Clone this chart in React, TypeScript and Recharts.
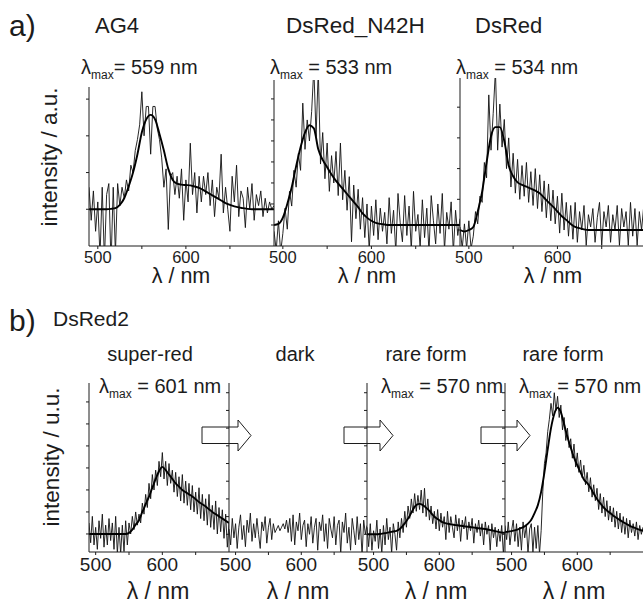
import React from "react";
import { LineChart, Line, XAxis, YAxis } from "recharts";

// wavelength grid of the measured traces (nm)
const wl = [
  490, 492.5, 495, 497.5, 500, 502.5, 505, 507.5, 510, 512.5,
  515, 517.5, 520, 522.5, 525, 527.5, 530, 532.5, 535, 537.5,
  540, 542.5, 545, 547.5, 550, 552.5, 555, 557.5, 560, 562.5,
  565, 567.5, 570, 572.5, 575, 577.5, 580, 582.5, 585, 587.5,
  590, 592.5, 595, 597.5, 600, 602.5, 605, 607.5, 610, 612.5,
  615, 617.5, 620, 622.5, 625, 627.5, 630, 632.5, 635, 637.5,
  640, 642.5, 645, 647.5, 650, 652.5, 655, 657.5, 660, 662.5,
  665, 667.5, 670, 672.5, 675, 677.5, 680, 682.5, 685, 687.5,
  690, 692.5, 695, 697.5, 700,
];

// wavelength grid of the fitted curves (nm)
const fitWl = [
  490, 495, 500, 505, 510, 515, 520, 525, 530, 535,
  540, 545, 550, 555, 560, 565, 570, 575, 580, 585,
  590, 595, 600, 605, 610, 615, 620, 625, 630, 635,
  640, 645, 650, 655, 660, 665, 670, 675, 680, 685,
  690, 695, 700,
];

// a) AG4
const ag4Raw = [
  0.6, -0.3, 0.5, -0.6, 0.2, -1.3, 0.6, -1.4, 0.4, 0.7,
  -1.5, 0.6, -1.2, 0.7, 0.1, 0.6, 0.3, 0.8, 0.5, 1.2,
  1.0, 1.6, 1.9, 2.3, 3.2, 2.0, 2.8, 2.8, 1.5, 2.8,
  2.8, 2.2, 1.9, 1.4, 0.6, 1.1, -0.55, 0.9, 1.0, 0.4,
  0.9, 0.3, 1.1, -0.3, 0.8, 0.2, 1.8, 0.4, 1.0, -0.1,
  0.9, 0.2, 0.9, 0.4, 1.0, 0.1, 0.8, -0.2, 0.6, 0.3,
  1.5, -0.1, 0.6, 0.0, -0.6, 0.9, 0.2, 1.2, -0.2, 0.5,
  0.3, -0.5, 0.6, 0.0, 0.7, -0.3, 0.4, 0.1, 0.5, -0.2,
  0.3, -0.1, 0.2, 0.0, 0.1,
];
const ag4Fit = [
  0, 0, 0, 0, 0, 0.01, 0.03, 0.12, 0.3, 0.62,
  1.0, 1.5, 2.1, 2.45, 2.57, 2.45, 2.05, 1.6, 1.1, 0.8,
  0.7, 0.67, 0.66, 0.65, 0.62, 0.58, 0.52, 0.45, 0.38, 0.31,
  0.24, 0.17, 0.12, 0.08, 0.05, 0.03, 0.01, 0, 0, 0,
  0, 0, 0,
];

// a) DsRed_N42H
const n42hRaw = [
  -0.3, -1.2, 0.2, -1.3, -0.4, 0.8, -0.2, 1.6, 0.9, 2.6,
  1.8, 3.4, 2.6, 5.8, 3.6, 5.0, 4.0, 5.4, 7.5, 4.2,
  7.4, 2.9, 4.4, 2.2, 3.9, 1.6, 3.3, 2.0, 3.5, 1.4,
  3.9, 1.2, 2.6, 0.7, 2.3, -0.8, 1.9, 0.3, 1.7, -0.2,
  1.3, -0.6, 1.0, -1.2, 0.9, -0.5, 1.2, -0.7, 0.8, -0.3,
  0.6, -0.9, 1.3, -0.4, 0.7, -1.3, 1.5, 0.1, -0.8, 1.4,
  -0.5, 0.9, -1.2, 1.6, -0.3, 0.5, -1.1, 1.2, -0.6, 0.8,
  -1.3, 1.4, 0.2, -0.9, 1.0, -0.4, 1.5, -1.2, 0.6, -0.2,
  1.1, -1.3, 0.7, -0.5, 0.3,
];
const n42hFit = [
  0, 0.05, 0.35, 1.0, 1.8, 2.8, 3.7, 4.4, 4.75, 4.6,
  3.6, 3.1, 2.75, 2.4, 2.1, 1.85, 1.6, 1.35, 1.1, 0.85,
  0.55, 0.35, 0.2, 0.1, 0.05, 0.02, 0, 0, 0, 0,
  0, 0, 0, 0, 0, 0, 0, 0, 0, 0,
  0, 0, 0,
];

// a) DsRed
const dsRedRaw = [
  0.1, -0.6, 0.2, -0.6, 0.3, -0.6, -0.2, 0.6, 0.2, 1.1,
  0.9, 2.2, 1.7, 4.4, 2.6, 3.8, 5.2, 2.6, 4.1, 2.7,
  3.6, 2.0, 3.0, 1.4, 2.5, 1.2, 2.3, 1.0, 2.1, 1.1,
  2.2, 0.9, 1.9, 0.8, 2.0, 0.7, 1.8, 0.6, 1.6, 0.4,
  1.5, 0.3, 1.3, 0.2, 1.1, -0.1, 1.2, 0.0, 0.9, -0.2,
  0.8, -0.3, 0.9, -0.4, 0.6, 0.0, 0.8, -0.5, 0.5, 0.1,
  0.7, -0.4, 0.4, 0.9, -0.5, 0.6, 0.1, 0.8, -0.4, 0.5,
  0.0, 0.8, -0.5, 0.7, 0.1, 0.6, -0.5, 0.9, -0.2, 0.7,
  -0.5, 0.6, 0.0, 0.8, -0.3,
];
const dsRedFit = [
  0, -0.05, 0, 0.1, 0.6, 1.25, 2.2, 3.05, 3.35, 3.35,
  2.9, 2.1, 1.75, 1.55, 1.47, 1.41, 1.35, 1.28, 1.2, 1.05,
  0.9, 0.76, 0.6, 0.45, 0.33, 0.2, 0.1, 0.06, 0.02, 0,
  0, 0, 0, 0, 0, 0, 0, 0, 0, 0,
  0, 0, 0,
];

// b) DsRed2 super-red
const superRedRaw = [
  0.5, -0.4, 0.8, -0.5, 0.3, -0.7, 0.6, -0.2, 0.9, -0.6,
  0.4, -0.5, 0.7, -0.3, 0.5, -0.7, 0.8, -0.9, 0.3, -0.9,
  0.4, -0.8, 0.6, -0.5, 0.5, 0.0, 0.8, 0.2, 1.0, 0.4,
  0.9, 0.5, 1.4, 0.9, 1.8, 1.2, 2.3, 1.6, 2.7, 2.0,
  2.9, 2.2, 3.3, 2.6, 3.7, 2.5, 3.3, 2.2, 3.2, 2.3,
  2.9, 1.9, 2.8, 1.7, 2.6, 1.5, 2.7, 1.4, 2.4, 1.3,
  2.3, 1.1, 2.2, 1.0, 1.9, 0.9, 2.1, 0.7, 1.8, 0.6,
  1.6, 0.4, 1.8, 0.3, 1.3, 0.2, 1.5, 0.0, 1.2, 0.1,
  1.1, -0.2, 0.9, -0.6, 0.5,
];
const superRedFit = [
  0, 0, 0, 0, 0, 0, 0, 0, 0, 0,
  0, 0, 0.05, 0.2, 0.42, 0.62, 1.0, 1.35, 1.7, 2.1,
  2.5, 2.85, 3.05, 2.9, 2.7, 2.5, 2.3, 2.15, 2.0, 1.9,
  1.8, 1.7, 1.58, 1.45, 1.35, 1.25, 1.12, 1.0, 0.9, 0.8,
  0.7, 0.6, 0.5,
];

// b) dark
const darkRaw = [
  0.3, -0.6, 0.9, -0.2, 0.6, -0.8, 0.4, 1.1, -0.3, 0.5,
  -0.7, 0.8, 0.1, 1.2, -0.4, 0.6, -0.2, 0.9, 0.0, -0.8,
  0.7, 0.2, 1.0, -0.5, 0.4, 0.9, -0.3, 0.6, 0.1, 0.3,
  0.5, 0.2, 0.4, 0.6, 0.3, 0.8, 0.1, 0.9, -0.4, 1.1,
  -0.6, 0.7, 0.2, 1.2, -0.3, 0.5, 0.8, -0.7, 0.6, 0.0,
  1.0, -0.5, 0.4, 0.9, -0.9, 0.7, 0.2, 1.1, -0.4, 0.6,
  -0.8, 0.9, 0.3, -0.2, 1.0, -0.6, 0.5, 0.8, -1.1, 0.7,
  0.1, 1.2, -0.5, 0.4, -0.9, 0.9, 0.2, -0.6, 1.0, -0.3,
  0.6, -1.2, 0.8, 0.0, 0.5,
];

// b) rare form, first
const rare1Raw = [
  0.4, -0.7, 0.6, -0.9, 0.2, -0.4, 0.8, -0.8, 0.3, -1.1,
  0.5, -0.6, 0.9, -0.3, 0.4, -1.1, 0.6, 0.0, -0.9, 0.7,
  -0.2, 0.9, 0.1, 1.3, 0.4, 1.6, 0.9, 2.0, 1.2, 2.3,
  1.3, 2.2, 1.4, 2.5, 1.2, 2.6, 1.0, 2.0, 0.8, 1.6,
  0.6, 1.3, 0.3, 1.4, 0.2, 1.2, 0.4, 1.0, -0.3, 1.3,
  0.1, 1.0, 0.4, -0.2, 1.1, 0.2, 0.9, -0.4, 0.8, 0.3,
  1.0, -0.3, 0.7, 0.2, 0.9, -0.5, 0.6, 0.1, 0.8, -0.1,
  0.6, -0.6, 0.7, 0.0, 0.5, -0.9, 0.6, -0.2, 0.4, -0.7,
  0.3, -0.4, 0.5, -1.1, 0.2,
];
const rare1Fit = [
  0, 0, 0, 0, 0.02, 0.05, 0.08, 0.12, 0.16, 0.2,
  0.3, 0.5, 0.75, 1.05, 1.4, 1.65, 1.72, 1.65, 1.5, 1.32,
  1.1, 0.92, 0.8, 0.68, 0.62, 0.58, 0.55, 0.52, 0.5, 0.47,
  0.44, 0.42, 0.4, 0.37, 0.34, 0.32, 0.3, 0.26, 0.22, 0.18,
  0.14, 0.1, 0.08,
];

// b) rare form, second
const rare2Raw = [
  0.5, -0.3, 0.7, -0.6, 0.2, 0.8, -0.4, 0.6, -0.7, 0.4,
  -0.9, 0.7, -0.2, 0.5, -1.1, 0.3, 0.6, -1.0, 0.4, -0.8,
  0.5, -1.1, 0.2, 2.4, 4.0, 4.6, 5.8, 6.5, 7.4, 6.7,
  8.0, 7.0, 7.8, 6.6, 7.3, 5.9, 6.6, 5.3, 6.0, 4.9,
  5.4, 4.3, 5.1, 3.8, 4.6, 3.5, 4.2, 3.2, 3.9, 2.8,
  3.5, 2.4, 3.2, 2.1, 2.8, 1.9, 2.6, 1.4, 2.3, 1.2,
  2.1, 1.0, 1.9, 0.8, 1.6, 0.7, 1.5, 0.4, 1.3, 0.3,
  1.2, 0.1, 1.0, 0.0, 0.9, -0.2, 0.8, 0.1, 0.6, -0.1,
  0.7, -0.3, 0.5, 0.0, 0.4,
];
const rare2Fit = [
  0.13, 0.15, 0.18, 0.22, 0.28, 0.36, 0.45, 0.6, 0.82, 1.2,
  1.65, 2.4, 3.5, 4.8, 6.0, 6.8, 7.15, 6.9, 6.2, 5.5,
  4.9, 4.35, 3.9, 3.5, 3.1, 2.9, 2.65, 2.3, 2.0, 1.75,
  1.52, 1.35, 1.2, 1.05, 0.92, 0.8, 0.68, 0.58, 0.48, 0.4,
  0.32, 0.25, 0.2,
];

const FONT = '"Liberation Sans", Arial, Helvetica, sans-serif';
const INK = "#1c1c1c";

type Panel = {
  raw: number[];
  fit?: number[];
  left: number;
  top: number;
  plotW: number;
  plotH: number;
  yDomain: [number, number];
  yTicks: number[];
  tickFont: number;
  tickMargin: number;
};

const panels: Panel[] = [
  { raw: ag4Raw, fit: ag4Fit, left: 89, top: 87, plotW: 185, plotH: 159, yDomain: [-1, 3.33], yTicks: [0, 1, 2, 3], tickFont: 16.5, tickMargin: 2 },
  { raw: n42hRaw, fit: n42hFit, left: 274, top: 80, plotW: 186, plotH: 166, yDomain: [-1, 6.9], yTicks: [0, 1, 2, 3, 4, 5, 6], tickFont: 16.5, tickMargin: 2 },
  { raw: dsRedRaw, fit: dsRedFit, left: 460, top: 78, plotW: 186, plotH: 168, yDomain: [-0.52, 4.95], yTicks: [0, 1, 2, 3, 4], tickFont: 16.5, tickMargin: 2 },
  { raw: superRedRaw, fit: superRedFit, left: 89, top: 383, plotW: 140, plotH: 169, yDomain: [-0.82, 6.86], yTicks: [0, 1, 2, 3, 4, 5, 6], tickFont: 19, tickMargin: 3 },
  { raw: darkRaw, left: 229, top: 383, plotW: 138, plotH: 169, yDomain: [-1, 8.55], yTicks: [0, 1, 2, 3, 4, 5, 6, 7, 8], tickFont: 19, tickMargin: 3 },
  { raw: rare1Raw, fit: rare1Fit, left: 367, top: 383, plotW: 138, plotH: 169, yDomain: [-1, 8.55], yTicks: [0, 1, 2, 3, 4, 5, 6, 7, 8], tickFont: 19, tickMargin: 3 },
  { raw: rare2Raw, fit: rare2Fit, left: 505, top: 383, plotW: 138, plotH: 169, yDomain: [-1, 8.55], yTicks: [0, 1, 2, 3, 4, 5, 6, 7, 8], tickFont: 19, tickMargin: 3 },
];

const PAD_L = 16;
const AXIS_H = 40;

function SpectrumPanel({ p }: { p: Panel }) {
  const rows = wl.map((w, i) => {
    const k = fitWl.indexOf(w);
    return { wl: w, raw: p.raw[i], fit: p.fit && k >= 0 ? p.fit[k] : null };
  });
  return (
    <div style={{ position: "absolute", left: p.left - PAD_L, top: p.top }}>
      <LineChart
        width={PAD_L + p.plotW}
        height={p.plotH + AXIS_H}
        data={rows}
        margin={{ top: 0, right: 0, bottom: 0, left: 0 }}
      >
        <XAxis
          dataKey="wl"
          type="number"
          domain={[490, 700]}
          ticks={[500, 550, 600, 650]}
          interval={0}
          allowDataOverflow
          height={AXIS_H}
          tickSize={3}
          tickMargin={p.tickMargin}
          stroke={INK}
          tickFormatter={(v: number) => (v === 500 || v === 600 ? String(v) : "")}
          tick={{ fill: INK, fontSize: p.tickFont, fontFamily: FONT }}
        />
        <YAxis
          type="number"
          domain={p.yDomain}
          ticks={p.yTicks}
          interval={0}
          allowDataOverflow
          width={PAD_L}
          tickSize={3}
          stroke={INK}
          tickFormatter={() => ""}
        />
        <Line
          dataKey="raw"
          type="linear"
          stroke="#111"
          strokeWidth={0.9}
          dot={false}
          isAnimationActive={false}
        />
        {p.fit && (
          <Line
            dataKey="fit"
            type="monotone"
            connectNulls
            stroke="#000"
            strokeWidth={1.9}
            dot={false}
            isAnimationActive={false}
          />
        )}
      </LineChart>
    </div>
  );
}

function LMax({ x, y, value, gap = " " }: { x: number; y: number; value: number; gap?: string }) {
  return (
    <text x={x} y={y} fontSize={20} fill={INK} fontFamily={FONT}>
      <tspan>λ</tspan>
      <tspan dy={5} fontSize={12}>max</tspan>
      <tspan dy={-5}>{`${gap}= ${value} nm`}</tspan>
    </text>
  );
}

function Arrow({ x }: { x: number }) {
  const pts = [
    [x, 427], [x + 36, 427], [x + 36, 420], [x + 49, 435.5],
    [x + 36, 451], [x + 36, 443.5], [x, 443.5],
  ].map((q) => q.join(",")).join(" ");
  return <polygon points={pts} fill="none" stroke={INK} strokeWidth={1} />;
}

export default function App() {
  const t = { fill: INK, fontFamily: FONT };
  return (
    <div
      style={{
        position: "absolute",
        left: 0,
        top: 0,
        width: 643,
        height: 604,
        overflow: "hidden",
        background: "#fff",
      }}
    >
      {panels.map((p, i) => (
        <SpectrumPanel key={i} p={p} />
      ))}
      <svg
        width={643}
        height={604}
        style={{ position: "absolute", left: 0, top: 0, pointerEvents: "none" }}
      >
        <text x={9} y={36} fontSize={30} {...t}>a)</text>
        <text x={95} y={33} fontSize={22} {...t}>AG4</text>
        <text x={286} y={33} fontSize={22.5} {...t}>DsRed_N42H</text>
        <text x={475} y={33} fontSize={22} {...t}>DsRed</text>
        <LMax x={81} y={74} value={559} gap="" />
        <LMax x={270} y={74} value={533} />
        <LMax x={456} y={74} value={534} />
        <text
          transform="translate(57,157) rotate(-90)"
          textAnchor="middle"
          fontSize={22.5}
          {...t}
        >
          intensity / a.u.
        </text>
        <text x={181} y={283} textAnchor="middle" fontSize={21.5} {...t}>λ / nm</text>
        <text x={367} y={283} textAnchor="middle" fontSize={21.5} {...t}>λ / nm</text>
        <text x={553} y={283} textAnchor="middle" fontSize={21.5} {...t}>λ / nm</text>

        <text x={9} y={331} fontSize={30} {...t}>b)</text>
        <text x={53} y={326} fontSize={21} {...t}>DsRed2</text>
        <text x={150} y={361} textAnchor="middle" fontSize={20} {...t}>super-red</text>
        <text x={295} y={361} textAnchor="middle" fontSize={20} {...t}>dark</text>
        <text x={426} y={361} textAnchor="middle" fontSize={20} {...t}>rare form</text>
        <text x={563} y={361} textAnchor="middle" fontSize={20} {...t}>rare form</text>
        <LMax x={99} y={393} value={601} />
        <LMax x={381} y={393} value={570} />
        <LMax x={519} y={393} value={570} />
        <text
          transform="translate(59,457) rotate(-90)"
          textAnchor="middle"
          fontSize={22.5}
          {...t}
        >
          intensity / u.u.
        </text>
        <text x={158} y={599} textAnchor="middle" fontSize={23} {...t}>λ / nm</text>
        <text x={298} y={599} textAnchor="middle" fontSize={23} {...t}>λ / nm</text>
        <text x={436} y={599} textAnchor="middle" fontSize={23} {...t}>λ / nm</text>
        <text x={574} y={599} textAnchor="middle" fontSize={23} {...t}>λ / nm</text>
        <Arrow x={202} />
        <Arrow x={344} />
        <Arrow x={481} />
      </svg>
    </div>
  );
}
